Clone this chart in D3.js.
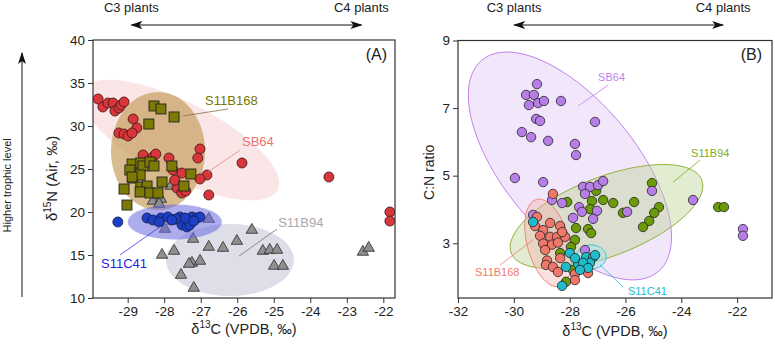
<!DOCTYPE html>
<html>
<head>
<meta charset="utf-8">
<script src="https://cdn.jsdelivr.net/npm/d3@7"></script>
<style>
body { margin: 0; background: #fff; }
text { font-family: "Liberation Sans", Arial, sans-serif; fill: #222; }
</style>
</head>
<body>
<script>
// ---- panel A: [d13C, d15N] ----
var sb64A = [[-29.81,33.14],[-29.68,32.21],[-29.54,32.67],[-29.40,32.67],[-29.35,31.74],[-29.24,32.09],
  [-29.18,32.44],[-29.10,32.79],[-28.85,30.81],[-28.75,29.77],[-29.24,29.19],[-29.10,29.07],[-28.99,28.84],
  [-28.88,29.19],[-28.58,26.63],[-28.31,26.40],[-28.23,26.74],[-27.87,26.28],[-27.76,24.88],[-27.52,24.53],
  [-27.02,27.33],[-27.08,26.28],[-26.83,24.30],[-27.02,23.84],[-27.65,22.79],[-27.52,22.21],[-27.41,22.44],
  [-26.78,21.98],[-27.71,23.70],[-25.87,25.70],[-23.49,24.07],[-21.82,20.0],[-21.82,18.95]];
var s11b168A = [[-28.28,32.33],[-28.09,31.98],[-27.73,31.05],[-28.42,30.23],[-28.88,25.58],[-28.94,24.88],
  [-28.86,23.95],[-28.64,25.70],[-28.58,25.35],[-28.66,24.30],[-28.39,25.81],[-28.28,25.35],[-28.64,22.91],
  [-28.47,23.02],[-28.66,22.33],[-28.06,23.49],[-28.39,22.21],[-28.17,22.21],[-27.79,25.35],[-27.27,24.42],
  [-27.46,23.02],[-29.10,22.67],[-29.02,20.81],[-28.88,24.07]];
var s11c41A = [[-29.27,18.84],[-28.47,19.30],[-28.31,19.07],[-28.09,19.30],[-27.90,19.42],[-27.57,19.42],
  [-27.49,18.84],[-27.35,19.07],[-27.24,19.42],[-27.11,19.30],[-27.02,19.42],[-27.51,18.49],[-27.38,18.26],
  [-27.30,18.49],[-27.43,19.30],[-27.68,19.19],[-27.19,18.95],[-28.14,18.84],[-27.79,19.07]];
var s11b94A = [[-27.82,23.14],[-28.31,21.40],[-28.09,21.63],[-28.14,21.05],[-26.78,19.30],[-27.76,19.07],
  [-27.98,18.14],[-27.21,16.98],[-28.06,15.12],[-27.73,15.58],[-27.54,12.79],[-27.24,14.19],[-27.02,14.42],
  [-27.32,14.07],[-27.19,11.28],[-26.78,16.05],[-26.39,15.93],[-26.01,16.74],[-25.60,18.02],[-25.30,15.58],
  [-25.11,15.70],[-24.91,15.70],[-24.99,13.84],[-24.75,13.84],[-22.56,15.47],[-22.40,15.93]];

// ---- panel B: [d13C, C:N] ----
var sb64B = [[-29.17,7.71],[-29.56,7.39],[-29.28,7.39],[-29.46,7.09],[-29.13,7.15],[-28.92,7.21],[-28.31,7.21],
  [-29.20,6.68],[-29.06,6.62],[-27.09,6.59],[-29.71,6.29],[-29.38,6.14],[-28.77,6.03],[-27.81,5.94],[-27.77,5.61],
  [-29.96,4.93],[-28.95,4.81],[-27.52,4.67],[-27.27,4.67],[-27.45,4.46],[-26.98,4.72],[-26.80,4.84],[-28.63,4.28],
  [-28.27,4.19],[-27.66,4.07],[-27.56,3.93],[-27.02,3.96],[-27.88,3.75],[-27.16,3.72],[-25.94,3.93],[-25.05,4.55],
  [-23.58,4.28],[-21.79,3.42],[-21.79,3.22],[-29.31,3.84],[-27.45,2.80]];
var s11b94B = [[-27.05,4.55],[-27.20,4.25],[-26.80,4.28],[-26.44,4.19],[-25.69,4.22],[-26.09,3.90],[-28.09,4.22],
  [-27.27,4.01],[-25.05,4.78],[-24.80,4.07],[-24.97,3.90],[-25.15,3.66],[-25.37,3.48],[-22.68,4.07],[-22.47,4.07],
  [-27.77,3.45],[-27.34,3.42],[-27.23,3.30],[-27.81,3.10],[-27.95,2.89],[-28.34,2.71],[-27.88,2.21],[-28.13,1.86]];
var s11b168B = [[-28.60,4.46],[-29.17,3.78],[-28.70,3.60],[-28.34,3.51],[-28.95,3.39],[-29.06,3.22],[-28.70,3.19],
  [-28.45,3.19],[-28.16,3.19],[-28.95,2.99],[-28.63,2.96],[-28.42,3.02],[-28.81,2.49],[-28.85,2.36],[-28.34,2.56],
  [-28.60,2.30],[-28.42,2.15],[-27.81,2.09],[-27.81,1.91],[-27.34,2.12],[-28.88,2.80],[-28.27,3.33],[-29.24,3.51]];
var s11c41B = [[-29.31,3.63],[-27.99,2.71],[-28.13,2.30],[-27.70,2.39],[-27.41,2.59],[-27.16,2.59],[-27.27,2.42],
  [-27.52,2.42],[-28.27,1.74],[-27.09,2.65],[-27.81,2.56],[-27.34,2.27],[-27.63,2.21]];

// ellipses: centre + two semi-axis vectors, all in data units
var ellA = [
  {c: [-27.57,28.37], u: [2.68,-5.80], v: [-0.472,-3.94], fill: '#f3bcbc', op: 0.38},
  {c: [-28.17,27.09], u: [1.287,0], v: [0,6.86], fill: '#c89e5e', op: 0.7},
  {c: [-26.20,14.42], u: [1.75,0], v: [0,4.19], fill: '#d3d3e0', op: 0.75}
];
var ellA2 = {c: [-27.71,18.84], u: [1.287,0], v: [0,2.03], fill: '#6a6ae0', op: 0.55};
var ellB = [
  {c: [-27.99,5.287], u: [3.154,-3.133], v: [-1.817,-1.246], fill: '#e6cdf8', stroke: '#c27ff0', op: 0.5},
  {c: [-26.68,3.793], u: [3.413,1.081], v: [0.509,-1.094], fill: '#bfd49a', stroke: '#8fb13c', op: 0.45},
  {c: [-28.77,3.009], u: [0.4175,-1.286], v: [-0.727,-0.161], fill: '#f4aaa0', stroke: '#f08178', op: 0.35},
  {c: [-27.23,2.595], u: [0.538,0], v: [0,0.355], fill: '#9fe3ea', stroke: '#3cc2d2', op: 0.5}
];

// labels: text anchor point, leader line from -> to
var labA = [
  {t: 'S11B168', p: [-26.88,32.44], a: [-27.49,31.16], b: [-26.25,31.98], col: '#7a7800', line: '#8a6a4a'},
  {t: 'SB64', p: [-25.87,27.67], a: [-26.80,24.65], b: [-25.92,27.21], col: '#f07070', line: '#f08080'},
  {t: 'S11B94', p: [-24.88,18.26], a: [-25.95,14.88], b: [-24.91,18.02], col: '#a8a8a8', line: '#8a6a6a'},
  {t: 'S11C41', p: [-29.73,13.49], a: [-29.21,15.0], b: [-28.12,18.26], col: '#2525e0', line: '#3a3ae0'}
];
var labB = [
  {t: 'SB64', p: [-26.98,7.80], a: [-27.70,7.06], b: [-26.62,7.68], col: '#c27ff0'},
  {t: 'S11B94', p: [-23.65,5.55], a: [-24.29,4.81], b: [-23.33,5.46], col: '#82ad1c'},
  {t: 'S11B168', p: [-31.39,2.03], a: [-30.49,2.36], b: [-29.31,3.10], col: '#f07a6e'},
  {t: 'S11C41', p: [-25.91,1.47], a: [-26.09,1.71], b: [-26.91,2.36], col: '#22bccc'}
];

var ticksAx = [-29,-28,-27,-26,-25,-24,-23,-22];
var ticksAy = [10,15,20,25,30,35,40];
var ticksBx = [-32,-30,-28,-26,-24,-22];
var ticksBy = [3,5,7,9];

var svg = d3.select('body').append('svg').attr('width', 775).attr('height', 345);
var defs = svg.append('defs');
defs.append('marker').attr('id', 'ah')
  .attr('viewBox', '0 0 12 8').attr('refX', 11).attr('refY', 4)
  .attr('markerWidth', 12).attr('markerHeight', 8)
  .attr('markerUnits', 'userSpaceOnUse').attr('orient', 'auto-start-reverse')
  .append('path').attr('d', 'M0,0 L12,4 L0,8 L3,4 Z').attr('fill', '#111');

var xA = d3.scaleLinear().domain([-29.95, -21.68]).range([93, 395]);
var yA = d3.scaleLinear().domain([10, 40]).range([298, 40]);
var xB = d3.scaleLinear().domain([-32, -20.75]).range([458, 772]);
var yB = d3.scaleLinear().domain([1.38, 9]).range([298, 40.5]);

function ellipsePath(e, x, y) {
  var pts = d3.range(0, 96).map(function(i) {
    var t = i / 96 * 2 * Math.PI;
    return [x(e.c[0] + e.u[0] * Math.cos(t) + e.v[0] * Math.sin(t)),
            y(e.c[1] + e.u[1] * Math.cos(t) + e.v[1] * Math.sin(t))];
  });
  return d3.line().curve(d3.curveLinearClosed)(pts);
}

function frame(g, x, y, tx, ty, id) {
  var r = [x.range()[0], y.range()[1], x.range()[1] - x.range()[0], y.range()[0] - y.range()[1]];
  defs.append('clipPath').attr('id', id).append('rect')
    .attr('x', r[0]).attr('y', r[1]).attr('width', r[2]).attr('height', r[3]);
  g.append('g').attr('transform', 'translate(0,' + y.range()[0] + ')')
    .call(d3.axisBottom(x).tickValues(tx).tickFormat(function(d) { return d; }).tickSize(5).tickSizeOuter(0).tickPadding(3))
    .call(function(a) { a.select('.domain').remove(); a.selectAll('text').style('font-size', '13.5px').attr('fill', '#222'); a.selectAll('line').attr('stroke', '#333'); });
  g.append('g').attr('transform', 'translate(' + x.range()[0] + ',0)')
    .call(d3.axisLeft(y).tickValues(ty).tickSize(5).tickSizeOuter(0).tickPadding(3))
    .call(function(a) { a.select('.domain').remove(); a.selectAll('text').style('font-size', '13.5px').attr('fill', '#222'); a.selectAll('line').attr('stroke', '#333'); });
}

function box(g, x, y) {
  g.append('rect').attr('x', x.range()[0]).attr('y', y.range()[1])
    .attr('width', x.range()[1] - x.range()[0]).attr('height', y.range()[0] - y.range()[1])
    .attr('fill', 'none').attr('stroke', '#333').attr('stroke-width', 1.2);
}

function topArrow(g, x, x0, x1) {
  g.append('line').attr('x1', x(x0)).attr('x2', x(x1)).attr('y1', 25).attr('y2', 25)
    .attr('stroke', '#111').attr('stroke-width', 1)
    .attr('marker-start', 'url(#ah)').attr('marker-end', 'url(#ah)');
  g.append('text').attr('x', x(x0)).attr('y', 12).attr('text-anchor', 'middle').style('font-size', '13px').text('C3 plants');
  g.append('text').attr('x', x(x1)).attr('y', 12).attr('text-anchor', 'middle').style('font-size', '13px').text('C4 plants');
}

function xLabel(g, x, yy) {
  var t = g.append('text').attr('x', (x.range()[0] + x.range()[1]) / 2).attr('y', yy)
    .attr('text-anchor', 'middle').style('font-size', '14.5px');
  t.append('tspan').text('δ');
  t.append('tspan').attr('dy', -6).style('font-size', '10px').text('13');
  t.append('tspan').attr('dy', 6).text('C (VPDB, ‰)');
}

// ---------- panel A ----------
var gA = svg.append('g');
frame(gA, xA, yA, ticksAx, ticksAy, 'clipA');
var pA = gA.append('g').attr('clip-path', 'url(#clipA)');
pA.selectAll('path.e').data(ellA).enter().append('path')
  .attr('d', function(e) { return ellipsePath(e, xA, yA); })
  .attr('fill', function(e) { return e.fill; }).attr('fill-opacity', function(e) { return e.op; });
pA.selectAll('path.tri').data(s11b94A).enter().append('path')
  .attr('d', d3.symbol(d3.symbolTriangle, 56))
  .attr('transform', function(d) { return 'translate(' + xA(d[0]) + ',' + (yA(d[1]) + 1) + ')'; })
  .attr('fill', '#8f8f8f').attr('stroke', '#2a2a2a').attr('stroke-width', 0.8);
pA.append('path').attr('d', ellipsePath(ellA2, xA, yA))
  .attr('fill', ellA2.fill).attr('fill-opacity', ellA2.op);
pA.selectAll('circle.b').data(s11c41A).enter().append('circle')
  .attr('cx', function(d) { return xA(d[0]); }).attr('cy', function(d) { return yA(d[1]); })
  .attr('r', 5).attr('fill', '#1c3fc4').attr('stroke', '#111a4a').attr('stroke-width', 0.8);
pA.selectAll('circle.r').data(sb64A).enter().append('circle')
  .attr('cx', function(d) { return xA(d[0]); }).attr('cy', function(d) { return yA(d[1]); })
  .attr('r', 5).attr('fill', '#d8363a').attr('stroke', '#3a1414').attr('stroke-width', 0.8);
pA.selectAll('rect.s').data(s11b168A).enter().append('rect')
  .attr('x', function(d) { return xA(d[0]) - 5; }).attr('y', function(d) { return yA(d[1]) - 5; })
  .attr('width', 10).attr('height', 10)
  .attr('fill', '#7c7904').attr('stroke', '#222').attr('stroke-width', 0.9);
labA.forEach(function(l) {
  gA.append('line').attr('x1', xA(l.a[0])).attr('y1', yA(l.a[1])).attr('x2', xA(l.b[0])).attr('y2', yA(l.b[1]))
    .attr('stroke', l.line).attr('stroke-width', 0.8);
  gA.append('text').attr('x', xA(l.p[0])).attr('y', yA(l.p[1])).style('font-size', '13px')
    .style('fill', l.col).text(l.t);
});
box(gA, xA, yA);
gA.append('text').attr('x', 387).attr('y', 60).attr('text-anchor', 'end').style('font-size', '16px').text('(A)');
topArrow(gA, xA, -28.9, -22.6);
xLabel(gA, xA, 334);
var yl = gA.append('text').attr('transform', 'translate(57,' + yA(23.9) + ') rotate(-90)')
  .attr('text-anchor', 'middle').style('font-size', '15px');
yl.append('tspan').text('δ');
yl.append('tspan').attr('dy', -6).style('font-size', '10px').text('15');
yl.append('tspan').attr('dy', 6).text('N (Air, ‰)');
gA.append('line').attr('x1', 22).attr('x2', 22).attr('y1', yA(10.12)).attr('y2', yA(38.49))
  .attr('stroke', '#111').attr('stroke-width', 1).attr('marker-end', 'url(#ah)');
gA.append('text').attr('transform', 'translate(11,' + yA(23.1) + ') rotate(-90)')
  .attr('text-anchor', 'middle').style('font-size', '11px').text('Higher trophic level');

// ---------- panel B ----------
var gB = svg.append('g');
frame(gB, xB, yB, ticksBx, ticksBy, 'clipB');
var pB = gB.append('g').attr('clip-path', 'url(#clipB)');
pB.selectAll('path.e').data(ellB).enter().append('path')
  .attr('d', function(e) { return ellipsePath(e, xB, yB); })
  .attr('fill', function(e) { return e.fill; }).attr('fill-opacity', function(e) { return e.op; })
  .attr('stroke', function(e) { return e.stroke; }).attr('stroke-width', 1);
function dotsB(data, col) {
  pB.append('g').selectAll('circle').data(data).enter().append('circle')
    .attr('cx', function(d) { return xB(d[0]); }).attr('cy', function(d) { return yB(d[1]); })
    .attr('r', 4.7).attr('fill', col).attr('stroke', '#222').attr('stroke-width', 0.8);
}
dotsB(s11b94B, '#6b9b06');
dotsB(sb64B, '#b87ee8');
dotsB(s11b168B, '#f0776b');
dotsB(s11c41B, '#1fbccb');
labB.forEach(function(l) {
  gB.append('line').attr('x1', xB(l.a[0])).attr('y1', yB(l.a[1])).attr('x2', xB(l.b[0])).attr('y2', yB(l.b[1]))
    .attr('stroke', l.col).attr('stroke-width', 0.8);
  gB.append('text').attr('x', xB(l.p[0])).attr('y', yB(l.p[1])).style('font-size', '11px')
    .style('fill', l.col).text(l.t);
});
box(gB, xB, yB);
gB.append('text').attr('x', 762).attr('y', 60).attr('text-anchor', 'end').style('font-size', '16px').text('(B)');
topArrow(gB, xB, -29.99, -22.5);
xLabel(gB, xB, 336);
gB.append('text').attr('transform', 'translate(434,' + yB(5.1) + ') rotate(-90)')
  .attr('text-anchor', 'middle').style('font-size', '14px').text('C:N ratio');
</script>
</body>
</html>
